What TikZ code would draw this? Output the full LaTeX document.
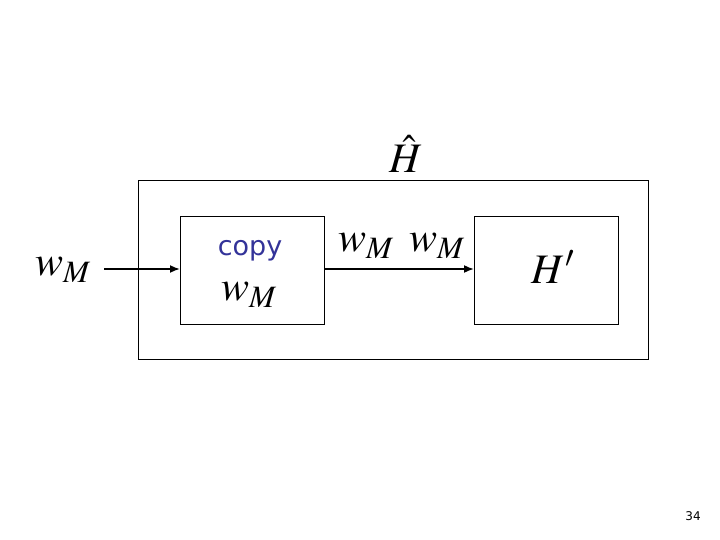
\documentclass[tikz,border=0pt]{standalone}
\usepackage{mathptmx}
\usepackage{fontspec}
\newfontfamily\copyfont{DejaVu Sans}
\usetikzlibrary{arrows.meta}
\definecolor{copyblue}{HTML}{333399}
\begin{document}
\begin{tikzpicture}[x=1pt,y=-1pt,
  box/.style={draw,line width=0.9pt,inner sep=0pt,anchor=north west},
  lbl/.style={inner sep=0pt,font=\fontsize{42}{48}\selectfont},
  conn/.style={line width=1.7pt,-{Latex[length=10pt,width=8pt]}}]
\useasboundingbox (0,0) rectangle (720,540);
\node[box,minimum width=510pt,minimum height=179pt] (outer) at (138,180) {};
\node[box,minimum width=144pt,minimum height=108pt] (copybox) at (180,216) {};
\node[box,minimum width=144pt,minimum height=108pt] (hbox) at (474,216) {};
\coordinate (in) at (104,269);
\node[lbl] (win) at (63,270) {$w_M$};
\node[inner sep=0pt,text=copyblue,font=\copyfont\fontsize{27}{32}\selectfont] (copy) at (250,251) {copy};
\node[lbl] (wc) at (249,295) {$w_M$};
\node[lbl] (w1) at (366,246) {$w_M$};
\node[lbl] (w2) at (437,246) {$w_M$};
\node[lbl] (hp) at (553,267) {$H'$};
\node[lbl] (hh) at (406,154) {$\hat{H}$};
\node[inner sep=0pt,font=\copyfont\fontsize{12}{14}\selectfont] (pg) at (693,516) {34};
\draw[conn] (in) -- (copybox.west |- in);
\draw[conn] (copybox.east |- in) -- (hbox.west |- in);
\end{tikzpicture}
\end{document}
